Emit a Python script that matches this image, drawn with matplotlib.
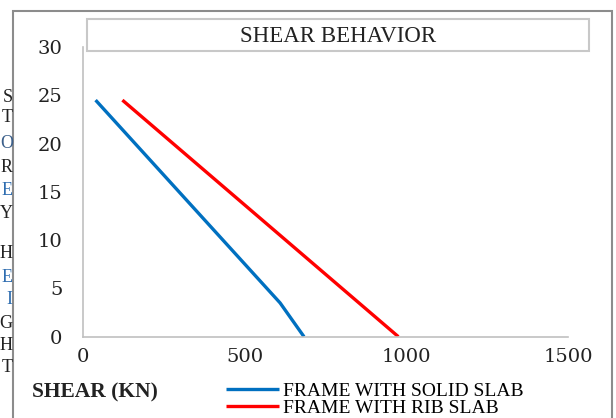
import matplotlib
matplotlib.use("Agg")
import matplotlib.pyplot as plt
from matplotlib.patches import Rectangle

# ---------------------------------------------------------------
# data
# ---------------------------------------------------------------
solid_shear = [38, 609, 683]        # KN
solid_height = [24.5, 3.5, 0]       # m
rib_shear = [121, 975]
rib_height = [24.5, 0]

x_ticks = [0, 500, 1000, 1500]
y_ticks = [0, 5, 10, 15, 20, 25, 30]

side_letters = ["S", "T", "O", "R", "E", "Y", "H", "E", "I", "G", "H", "T"]
side_y_px = [98, 118, 143, 167, 190, 213, 253, 277, 299, 323, 346, 368]
side_colors = ["#222222", "#222222", "#3b5f8a", "#222222", "#2f6db0", "#222222",
               "#222222", "#2f6db0", "#2f6db0", "#222222", "#222222", "#222222"]

W, H = 616, 418
fig = plt.figure(figsize=(W / 100, H / 100), dpi=100)

def fx(px):
    return px / W

def fy(py):
    return 1 - py / H

# outer chart frame (runs off the bottom edge)
fig.patches.append(Rectangle((fx(13), fy(425)), fx(612) - fx(13), fy(11) - fy(425),
                             transform=fig.transFigure, fill=False,
                             edgecolor="#8c8c8c", linewidth=1.5))

# title box
fig.patches.append(Rectangle((fx(87), fy(51)), fx(589) - fx(87), fy(19) - fy(51),
                             transform=fig.transFigure, fill=False,
                             edgecolor="#c8c8c8", linewidth=1.5))
fig.text(fx(338), fy(37), "SHEAR BEHAVIOR", ha="center", va="center",
         family="Liberation Serif", fontsize=16.5, color="#222222")

ax = fig.add_axes([fx(83.3), fy(336.7), fx(568) - fx(83.3), fy(47) - fy(336.7)])

ax.plot(solid_shear, solid_height, color="#0070c0", linewidth=2.4,
        solid_capstyle="butt", label="FRAME WITH SOLID SLAB")
ax.plot(rib_shear, rib_height, color="#ff0000", linewidth=2.4,
        solid_capstyle="butt", label="FRAME WITH RIB SLAB")

ax.set_xlim(0, 1500)
ax.set_ylim(0, 30)
ax.set_xticks(x_ticks)
ax.set_yticks(y_ticks)
ax.tick_params(length=0, labelsize=14, colors="#222222",
               labelfontfamily="DejaVu Serif")
ax.tick_params(axis="y", pad=15)
ax.tick_params(axis="x", pad=8)
for s in ["top", "right"]:
    ax.spines[s].set_visible(False)
for s in ["left", "bottom"]:
    ax.spines[s].set_color("#c0c0c0")
    ax.spines[s].set_linewidth(1.2)

# x axis title sits bottom-left, next to the legend
fig.text(fx(32), fy(392), "SHEAR (KN)", ha="left", va="center",
         family="Liberation Serif", fontweight="bold", fontsize=15.5, color="#222222")

fig.legend(loc="upper left", bbox_to_anchor=(fx(226), fy(382)),
           frameon=False, borderpad=0, borderaxespad=0,
           handlelength=2.7, handletextpad=0.25, labelspacing=0.0,
           prop={"family": "Liberation Serif", "size": 14})

# letters of the page text beside the chart
for ch, py, c in zip(side_letters, side_y_px, side_colors):
    fig.text(fx(12.8), fy(py), ch, ha="right", va="center",
             family="Liberation Serif", fontsize=13, color=c)

fig.savefig("out.png", dpi=100)
